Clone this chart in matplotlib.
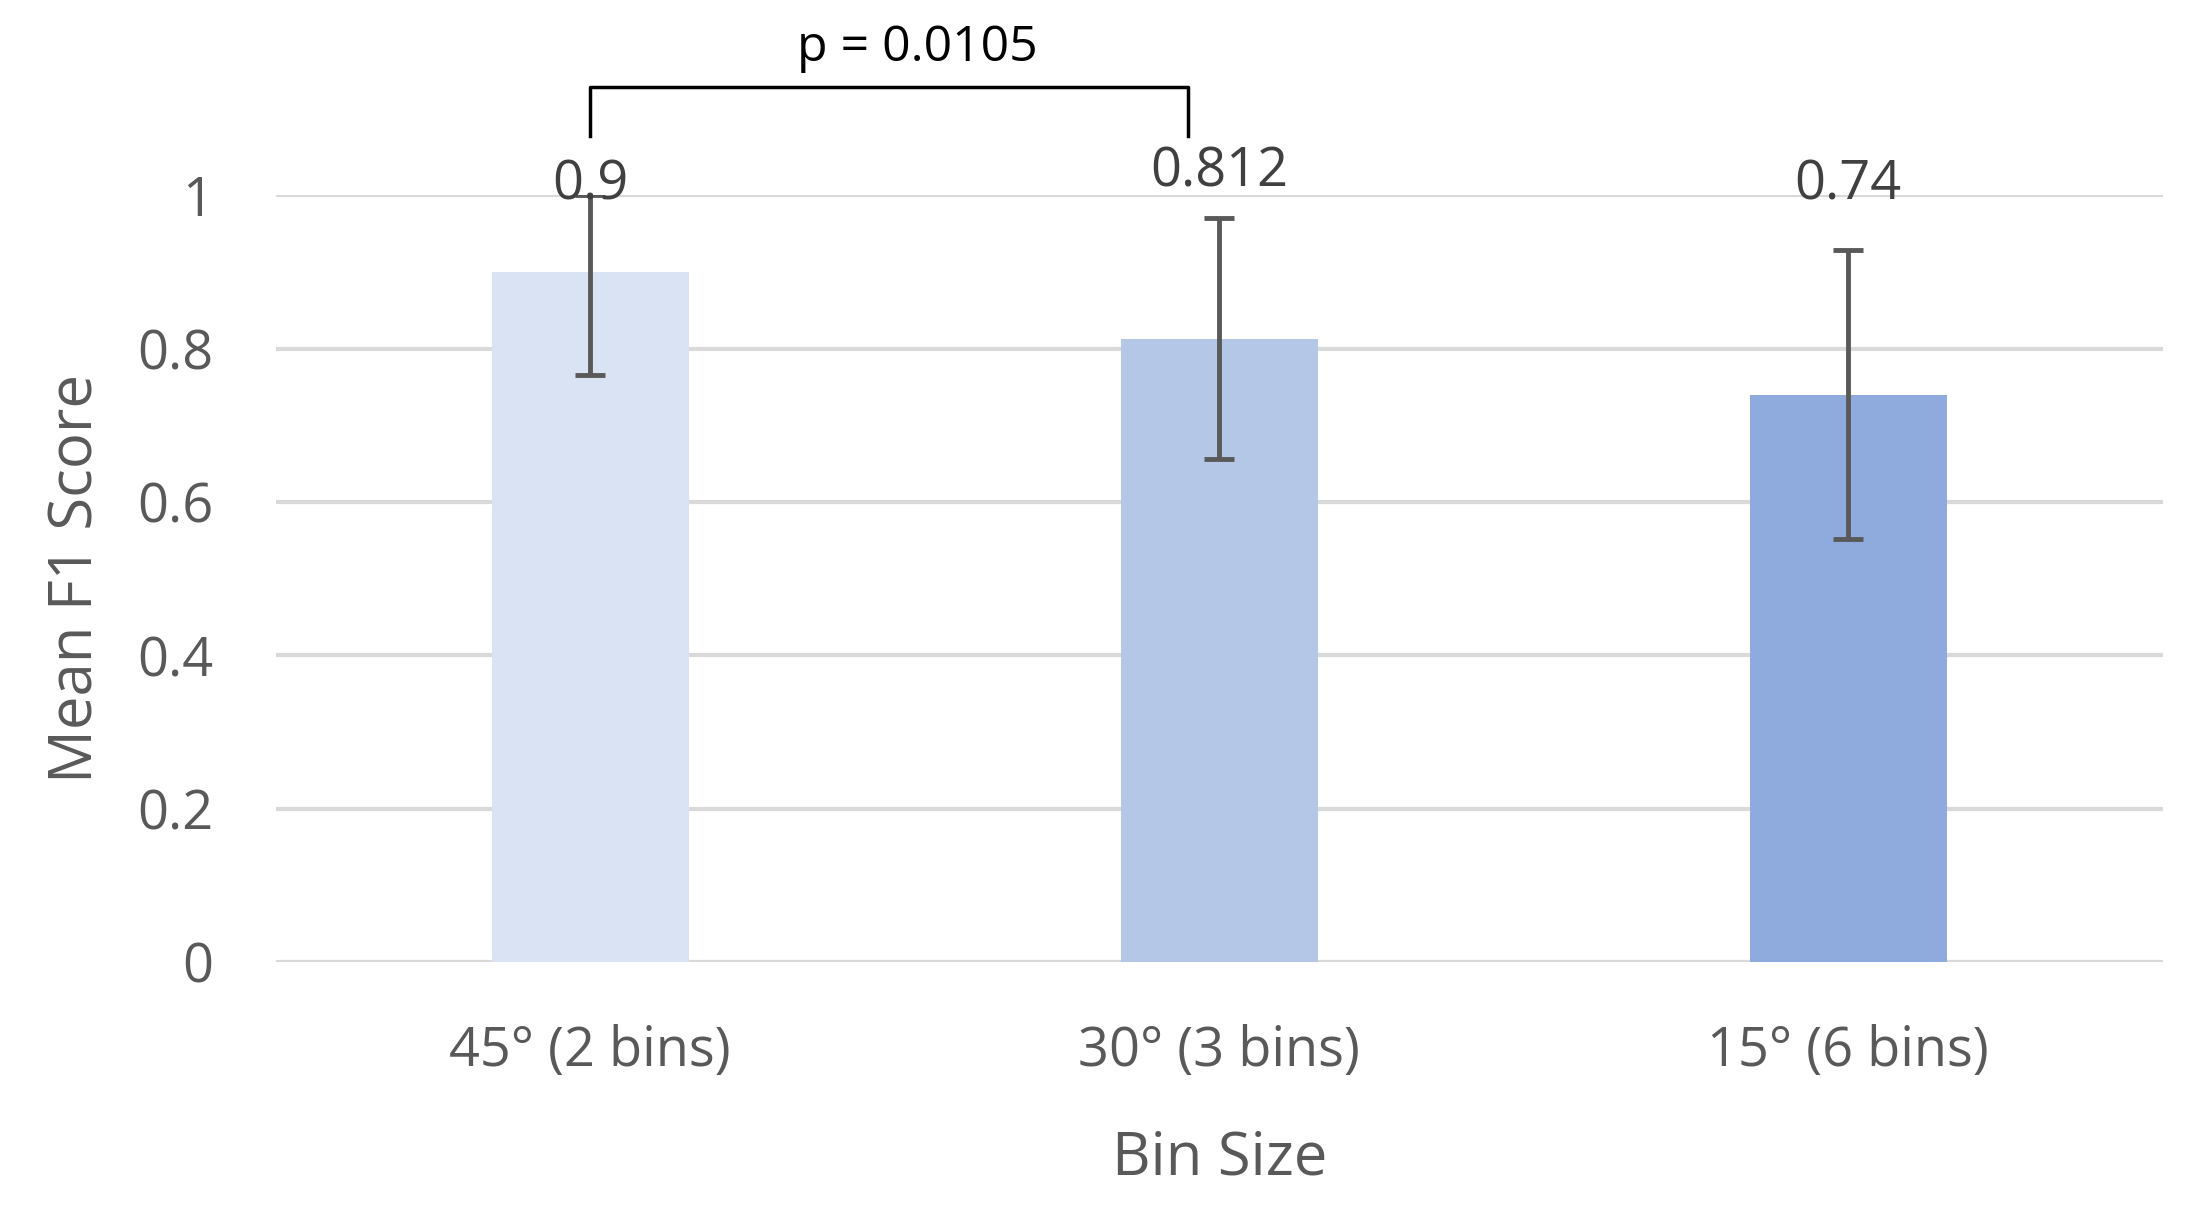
import matplotlib
matplotlib.use("Agg")
import matplotlib.pyplot as plt
import numpy as np

categories = ["45° (2 bins)", "30° (3 bins)", "15° (6 bins)"]
values = [0.9, 0.812, 0.74]
err_low = [0.134, 0.156, 0.188]
err_high = [0.1, 0.159, 0.189]
labels = ["0.9", "0.812", "0.74"]
label_y = [0.995, 1.012, 0.995]
colors = ["#DAE3F3", "#B4C7E7", "#8FAADC"]

plt.rcParams['font.family'] = ['Open Sans', 'DejaVu Sans']
gray = "#595959"
fig = plt.figure(figsize=(21.89, 12.13), dpi=100)
ax = fig.add_axes([0.126, 0.207, 0.862, 0.632])
x = np.arange(len(categories))
ax.bar(x, values, width=0.313, color=colors, zorder=2)
ax.errorbar(x, values, yerr=[err_low, err_high], fmt='none', ecolor=gray,
            elinewidth=3.5, capsize=11, capthick=3.5, zorder=3)
for xi, ly, l in zip(x, label_y, labels):
    ax.text(xi, ly, l, ha='center', va='baseline', fontsize=39, color="#404040", zorder=4)
ax.set_xlim(-0.5, 2.5)
ax.set_ylim(0, 1)
ax.set_yticks([0, 0.2, 0.4, 0.6, 0.8, 1.0])
ax.set_yticklabels(["0", "0.2", "0.4", "0.6", "0.8", "1"])
ax.grid(axis='y', color="#D9D9D9", linewidth=3, zorder=0)
ax.set_axisbelow(True)
for s in ax.spines.values():
    s.set_visible(False)
ax.tick_params(axis='both', length=0, labelsize=39, colors=gray)
ax.tick_params(axis='y', pad=45)
ax.tick_params(axis='x', pad=45)
ax.set_xticks(x)
ax.set_xticklabels(categories)
ax.set_xlabel("Bin Size", fontsize=43, color=gray, labelpad=35)
ax.set_ylabel("Mean F1 Score", fontsize=43, color=gray, labelpad=22)
# significance bracket
ax.plot([0, 0, 0.95, 0.95], [1.077, 1.141, 1.141, 1.077], color='black', lw=2.5, clip_on=False)
ax.text(0.52, 1.16, "p = 0.0105", ha='center', va='bottom', fontsize=36, color='black')
fig.savefig("out.png", dpi=100)
